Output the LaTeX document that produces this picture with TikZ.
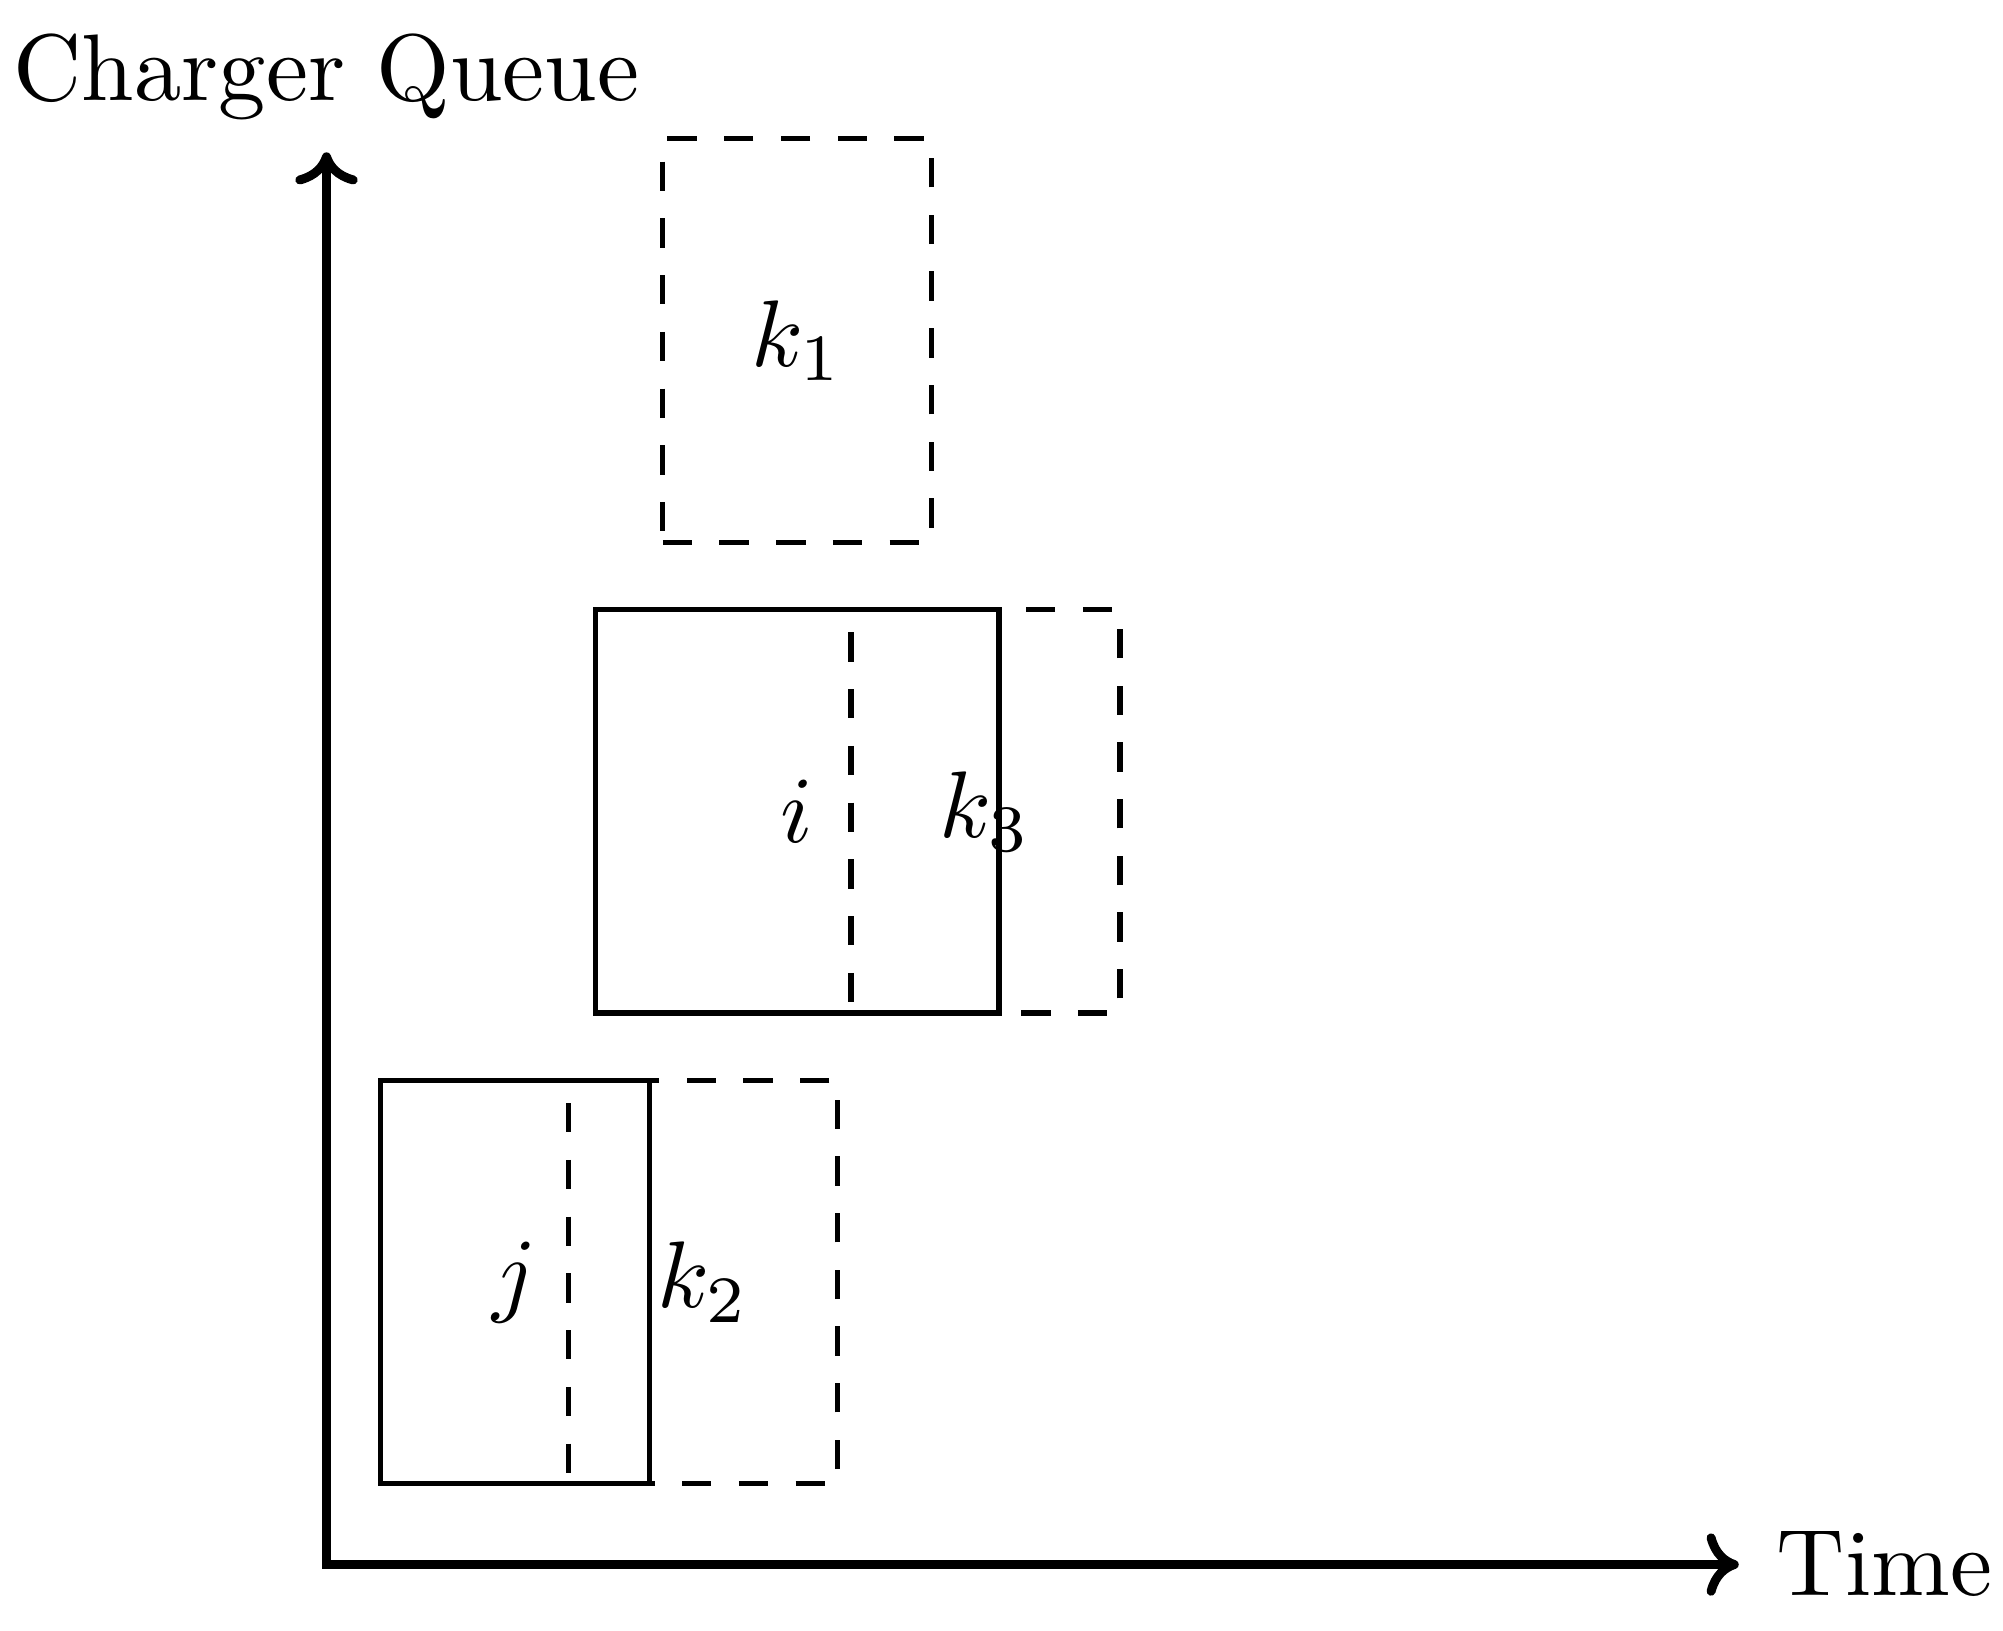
\documentclass[tikz,border=0pt]{standalone}
\usetikzlibrary{arrows.meta}
\begin{document}
\begin{tikzpicture}[x=0.5cm,y=0.5cm,
  axistip/.tip={Computer Modern Rightarrow[width=6.6pt,length=3.4pt]},
  axisline/.style={line width=0.95pt,axistip-axistip},
  solidbox/.style={draw,rectangle,line width=0.55pt,minimum width=1cm,minimum height=1.5cm,inner sep=0pt},
  dashbox/.style={solidbox,dash pattern=on 3.1pt off 2.9pt},
  lbl/.style={inner sep=0pt}]
\useasboundingbox (-2.4275,-0.487) rectangle (12.4647,11.632);
\coordinate (O) at (0,0);
\coordinate (ytip) at (0,10.5);
\coordinate (xtip) at (10.5,0);
\draw[axisline] (ytip) -- (O) -- (xtip);
\node[lbl,anchor=base] (ylabel) at (0,10.888) {Charger Queue};
\node[lbl,anchor=base west] (xlabel) at (10.77,-0.227) {Time};
\node[solidbox] (j) at (1.4,2.1) {$j$};
\node[dashbox] (k2) at (2.8,2.1) {$k_2$};
\node[solidbox,minimum width=1.5cm] (i) at (3.5,5.6) {$i$};
\node[dashbox] (k3) at (4.9,5.6) {$k_3$};
\node[dashbox] (k1) at (3.5,9.1) {$k_1$};
\end{tikzpicture}
\end{document}
